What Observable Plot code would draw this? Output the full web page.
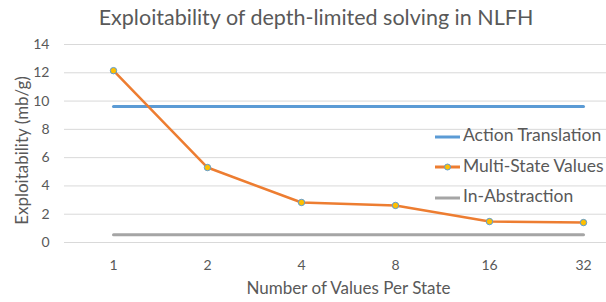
<!DOCTYPE html>
<html>
<head>
<meta charset="utf-8">
<script src="https://cdn.jsdelivr.net/npm/d3@7"></script>
<script src="https://cdn.jsdelivr.net/npm/@observablehq/plot@0.6"></script>
<style>
  html, body { margin: 0; padding: 0; background: #fff; }
  #wrap { position: relative; width: 606px; height: 302px; font-family: Lato, "Open Sans", sans-serif; color: #595959; }
  #title { height: 32px; line-height: 34px; font-size: 21.5px; text-align: center; padding-left: 26px; box-sizing: border-box; width: 606px; white-space: nowrap; }
  #legend { position: absolute; left: 435px; top: 124px; font-size: 17.5px; }
  .li { position: relative; height: 30.5px; line-height: 22px; white-space: nowrap; }
  .li svg { vertical-align: middle; margin-right: 3px; }
</style>
</head>
<body>
<div id="wrap">
  <div id="title">Exploitability of depth-limited solving in NLFH</div>
  <div id="chart"></div>
  <div id="legend"></div>
</div>
<script>
const categories = ["1", "2", "4", "8", "16", "32"];
const actionTranslation = [9.62, 9.62, 9.62, 9.62, 9.62, 9.62];
const multiStateValues = [12.15, 5.3, 2.83, 2.62, 1.48, 1.41];
const inAbstraction = [0.55, 0.55, 0.55, 0.55, 0.55, 0.55];
const yTicks = [0, 2, 4, 6, 8, 10, 12, 14];
const seriesNames = ["Action Translation", "Multi-State Values", "In-Abstraction"];
const colors = ["#5B9BD5", "#ED7D31", "#A5A5A5"];

const rows = (vals) => categories.map((c, i) => ({x: c, y: vals[i]}));

const chart = Plot.plot({
  width: 606,
  height: 270,
  marginTop: 12,
  marginBottom: 60,
  marginLeft: 64,
  marginRight: 0,
  style: {color: "#595959", fontFamily: "Lato, 'Open Sans', sans-serif", background: "transparent", overflow: "visible"},
  x: {type: "point", domain: categories, range: [112, 583], padding: 0, label: null},
  y: {domain: [0, 14], label: null},
  marks: [
    Plot.gridY(yTicks, {stroke: "#D9D9D9", strokeOpacity: 1, strokeWidth: 1}),
    Plot.axisY(yTicks, {tickSize: 0, tickPadding: 15, fontSize: 14, label: null}),
    Plot.axisX({tickSize: 0, tickPadding: 18, fontSize: 14, label: null}),
    Plot.line(rows(actionTranslation), {x: "x", y: "y", stroke: colors[0], strokeWidth: 3}),
    Plot.line(rows(inAbstraction), {x: "x", y: "y", stroke: colors[2], strokeWidth: 3}),
    Plot.line(rows(multiStateValues), {x: "x", y: "y", stroke: colors[1], strokeWidth: 2.5}),
    Plot.dot(rows(multiStateValues), {x: "x", y: "y", r: 3.2, fill: "#FFC000", stroke: "#5B9BD5", strokeWidth: 1}),
    Plot.text(["Number of Values Per State"], {frameAnchor: "bottom", dx: 13, dy: 46, fontSize: 17, fill: "#595959", lineAnchor: "middle", textAnchor: "middle"}),
    Plot.text(["Exploitability (mb/g)"], {frameAnchor: "left", rotate: -90, dx: -42, dy: 7, fontSize: 17, fill: "#595959", lineAnchor: "middle", textAnchor: "middle"})
  ]
});
document.getElementById("chart").appendChild(chart);

const legend = document.getElementById("legend");
seriesNames.forEach((name, i) => {
  const row = document.createElement("div");
  row.className = "li";
  const marker = i === 1 ? `<circle cx="12.5" cy="6" r="3" fill="#FFC000" stroke="#5B9BD5" stroke-width="1"/>` : "";
  row.innerHTML = `<svg width="25" height="12"><line x1="0" x2="25" y1="6" y2="6" stroke="${colors[i]}" stroke-width="3"/>${marker}</svg>${name}`;
  legend.appendChild(row);
});
</script>
</body>
</html>
